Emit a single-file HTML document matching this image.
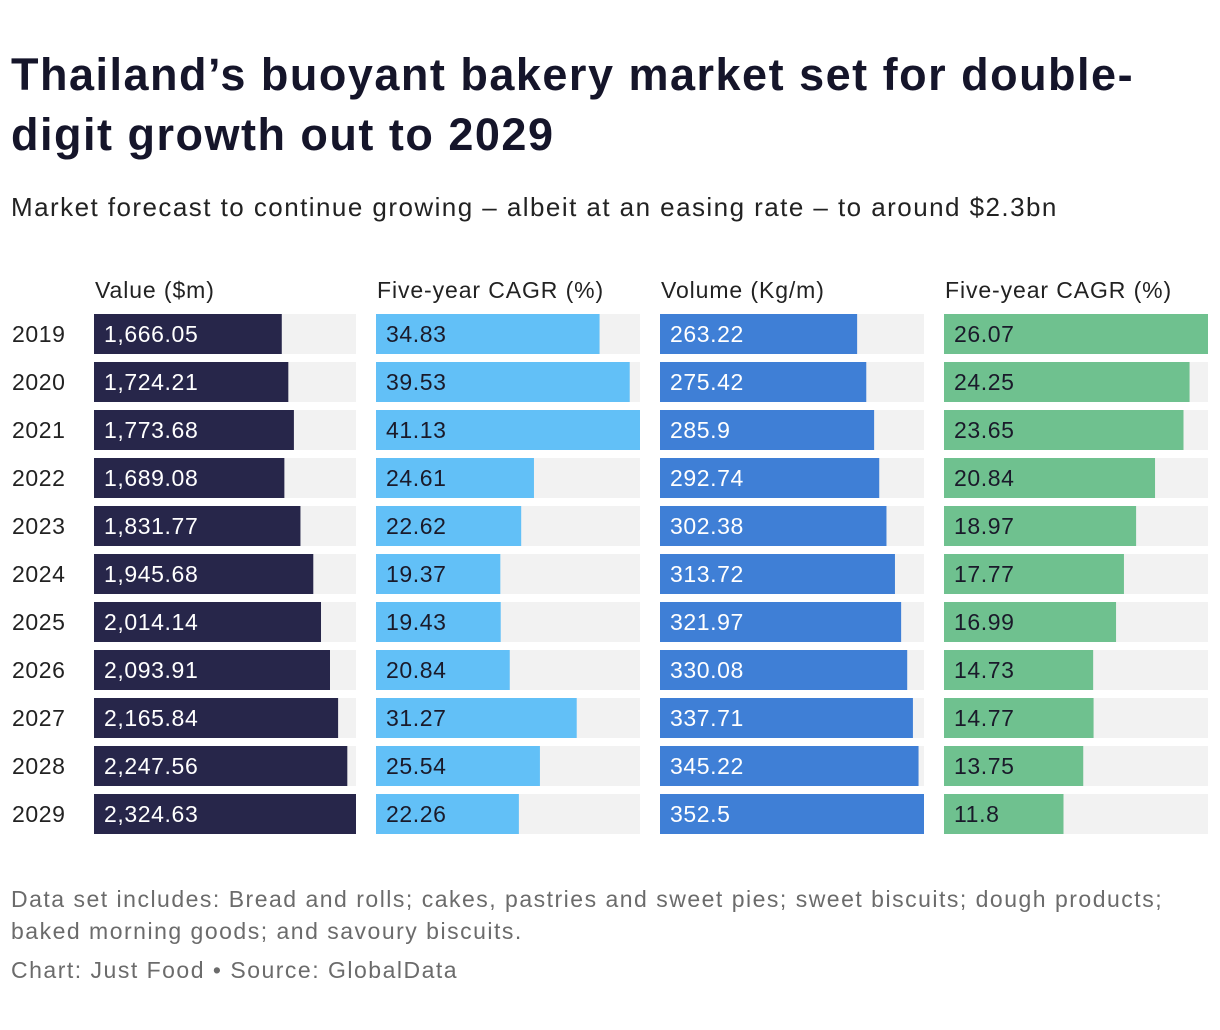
<!DOCTYPE html>
<html><head><meta charset="utf-8"><style>
body{margin:0;background:#fff;font-family:"Liberation Sans",sans-serif;}
#wrap{position:relative;width:1220px;height:1030px;overflow:hidden;}
.t{position:absolute;white-space:nowrap;}
</style></head><body>
<div id="wrap">
<div class="t" style="left:11px;top:45px;font-size:45px;font-weight:bold;color:#15152a;line-height:60px;letter-spacing:1.5px;">Thailand’s buoyant bakery market set for double-<br>digit growth out to 2029</div>
<div class="t" style="left:11px;top:192px;font-size:26px;color:#222;letter-spacing:1.45px;">Market forecast to continue growing – albeit at an easing rate – to around $2.3bn</div>
<svg id="chart" width="1220" height="860" style="position:absolute;left:0;top:0"></svg>
<div class="t" style="left:11px;top:883px;font-size:23px;color:#6b6b6b;line-height:32px;letter-spacing:1.5px;">Data set includes: Bread and rolls; cakes, pastries and sweet pies; sweet biscuits; dough products;<br>baked morning goods; and savoury biscuits.</div>
<div class="t" style="left:11px;top:957px;font-size:23px;color:#6b6b6b;letter-spacing:1.5px;">Chart: Just Food • Source: GlobalData</div>
</div>
<script>
const years=["2019","2020","2021","2022","2023","2024","2025","2026","2027","2028","2029"];
const valueM=[1666.05,1724.21,1773.68,1689.08,1831.77,1945.68,2014.14,2093.91,2165.84,2247.56,2324.63];
const valueCagr=[34.83,39.53,41.13,24.61,22.62,19.37,19.43,20.84,31.27,25.54,22.26];
const volume=[263.22,275.42,285.9,292.74,302.38,313.72,321.97,330.08,337.71,345.22,352.5];
const volumeCagr=[26.07,24.25,23.65,20.84,18.97,17.77,16.99,14.73,14.77,13.75,11.8];
const headers=["Value ($m)","Five-year CAGR (%)","Volume (Kg/m)","Five-year CAGR (%)"];
const labels=[["1,666.05","1,724.21","1,773.68","1,689.08","1,831.77","1,945.68","2,014.14","2,093.91","2,165.84","2,247.56","2,324.63"],null,null,null];
const NS="http://www.w3.org/2000/svg";
const svg=document.getElementById('chart');
const cols=[{d:valueM,x:94,w:262,c:"#27264a"},{d:valueCagr,x:376,w:264,c:"#62c0f7"},{d:volume,x:660,w:264,c:"#3f7fd6"},{d:volumeCagr,x:944,w:264,c:"#6fc18f"}];
const names=["value","value-cagr","volume","volume-cagr"];
function yPos(i){return 314+i*48;}
function mk(tag,attrs,txt){const e=document.createElementNS(NS,tag);for(const k in attrs)e.setAttribute(k,attrs[k]);if(txt!=null)e.textContent=txt;svg.appendChild(e);return e;}
cols.forEach((col,ci)=>{
  const h=mk('text',{x:col.x+1,y:298,'font-size':23,fill:'#222','font-family':'Liberation Sans, sans-serif','letter-spacing':0.9},headers[ci]);
  
  
  const max=Math.max(...col.d);
  const sx=v=>v/max*col.w;
  col.d.forEach((v,i)=>{
    const y=yPos(i);
    const bg=mk('rect',{x:col.x,y:y,width:col.w,height:40,fill:'#f2f2f2'});
    
    
    const r=mk('rect',{x:col.x,y:y,width:sx(v),height:40,fill:col.c});
    
    
    const lbl=labels[ci]?labels[ci][i]:String(v);
    const t=mk('text',{x:col.x+10,y:y+28,'font-size':23,fill:(ci===0||ci===2)?'#fff':'#1a1a2a','font-family':'Liberation Sans, sans-serif','letter-spacing':0.6},lbl);
    
    
  });
});
years.forEach((yr,i)=>{
  const t=mk('text',{x:12,y:yPos(i)+28,'font-size':23,fill:'#222','font-family':'Liberation Sans, sans-serif','letter-spacing':0.6},yr);
  
  
});
</script>
</body></html>
